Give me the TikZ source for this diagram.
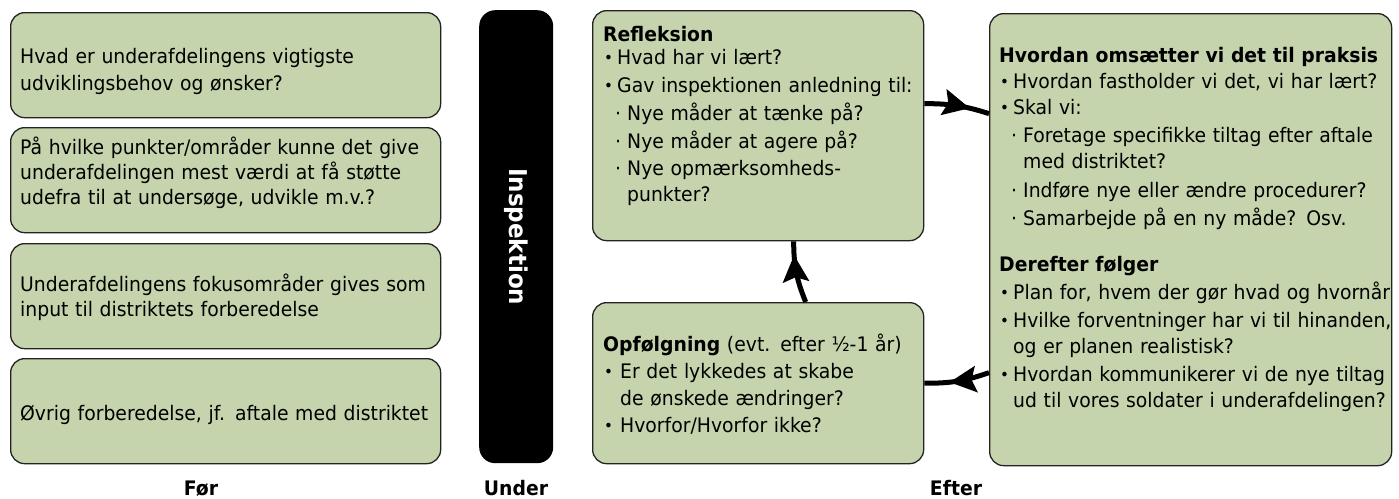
\documentclass[tikz,border=0pt]{standalone}
\usepackage{fontspec}
\setmainfont{DejaVu Sans}[FakeStretch=0.94]
\usetikzlibrary{arrows.meta,decorations.markings,calc}
\definecolor{boxgreen}{RGB}{197,212,172}
\definecolor{boxline}{RGB}{35,35,35}
\newcommand\blt[1]{\makebox[#1][l]{\hspace{1pt}\raisebox{1pt}{\scalebox{0.8}{•}}}}
\newcommand\sdot{\hspace*{12pt}\makebox[12pt][l]{·}}
\begin{document}
\begin{tikzpicture}[x=1pt,y=1pt,
 gbox/.style={draw=boxline, line width=1.3pt, fill=boxgreen, rounded corners=14pt, anchor=north west, inner sep=0pt},
 txt/.style={anchor=north west, inner sep=0pt, text width=460pt, align=left, font=\fontsize{20pt}{26pt}\selectfont},
 lbl/.style={anchor=base, inner sep=0pt, font=\fontsize{20pt}{24pt}\selectfont\bfseries},
 conn/.style={line width=5pt, postaction={decorate}, decoration={markings, mark=at position #1 with {\fill[black] (1pt,0pt) -- (-26pt,13.5pt) -- (-21pt,0pt) -- (-26pt,-13.5pt) -- cycle;}}}
]
\useasboundingbox (0,0) rectangle (1399,-498);

% Foer column
\node[gbox, minimum width=430pt, minimum height=105pt] (b1) at (10,-12) {};
\node[gbox, minimum width=430pt, minimum height=105pt] (b2) at (10,-127) {};
\node[gbox, minimum width=430pt, minimum height=105pt] (b3) at (10,-243) {};
\node[gbox, minimum width=430pt, minimum height=105pt] (b4) at (10,-358) {};

\node[txt] (t1) at (20,-44.8) {\strut Hvad er underafdelingens vigtigste\\[1pt]udviklingsbehov og ønsker?};
\node[txt] (t2) at (20,-135.8) {\strut På hvilke punkter/områder kunne det give\\[-1pt]underafdelingen mest værdi at få støtte\\[-1pt]udefra til at undersøge, udvikle m.v.?};
\node[txt] (t3) at (20,-272.8) {\strut Underafdelingens fokusområder gives som\\[-1pt]input til distriktets forberedelse};
\node[txt] (t4) at (20,-401.8) {\strut Øvrig forberedelse, jf. aftale med distriktet};

% Under column
\node[fill=black, rounded corners=16pt, anchor=north west, inner sep=0pt, minimum width=74pt, minimum height=453pt] (bar) at (479,-10) {};
\node[rotate=-90, text=white, inner sep=0pt, font=\fontsize{24.5pt}{28pt}\selectfont\bfseries] (insp) at (bar.center) {Inspektion};

% Efter column
\node[gbox, minimum width=331pt, minimum height=230pt] (refl) at (592,-10) {};
\node[gbox, minimum width=331pt, minimum height=161pt] (opf) at (592,-302) {};
\node[gbox, minimum width=402pt, minimum height=452pt] (right) at (989,-13) {};

\node[txt] (trefl) at (603,-23.3) {\strut\textbf{Refleksion}\\[-3pt]
\blt{14pt}Hvad har vi lært?\\[2pt]
\blt{14pt}Gav inspektionen anledning til:\\[2pt]
\sdot Nye måder at tænke på?\\[2pt]
\sdot Nye måder at agere på?\\[1pt]
\sdot Nye opmærksomheds-\\[0pt]
\hspace*{24pt}punkter?};

\node[txt] (topf) at (603,-333.3) {\strut\textbf{Opfølgning} (evt. efter ½-1 år)\\[0.5pt]
\blt{17pt}Er det lykkedes at skabe\\[1pt]
\hspace*{17pt}de ønskede ændringer?\\[1.5pt]
\blt{17pt}Hvorfor/Hvorfor ikke?};

\node[txt] (tright) at (999,-43.8) {\strut\textbf{Hvordan omsætter vi det til praksis}\\
\blt{14pt}Hvordan fastholder vi det, vi har lært?\\
\blt{14pt}Skal vi:\\[2pt]
\sdot Foretage specifikke tiltag efter aftale\\
\hspace*{24pt}med distriktet?\\[3pt]
\sdot Indføre nye eller ændre procedurer?\\[2pt]
\sdot Samarbejde på en ny måde? Osv.\\[20pt]
\textbf{Derefter følger}\\[2pt]
\blt{14pt}Plan for, hvem der gør hvad og hvornår\\[2pt]
\blt{14pt}Hvilke forventninger har vi til hinanden,\\
\hspace*{14pt}og er planen realistisk?\\[2pt]
\blt{14pt}Hvordan kommunikerer vi de nye tiltag\\
\hspace*{14pt}ud til vores soldater i underafdelingen?};

% connectors
\draw[conn=0.68] ([yshift=22pt]refl.east) to[bend left=9] ([yshift=126pt]right.west);
\draw[conn=0.6] ([yshift=-133pt]right.west) to[bend left=10] (opf.east);
\draw[conn=0.76] ([xshift=47.5pt]opf.north) to[bend left=11] ([xshift=35.5pt]refl.south);

% labels
\node[lbl] (foer) at (201,-495) {Før};
\node[lbl] (under) at (516,-495) {Under};
\node[lbl] (efter) at (956,-495) {Efter};
\end{tikzpicture}
\end{document}
